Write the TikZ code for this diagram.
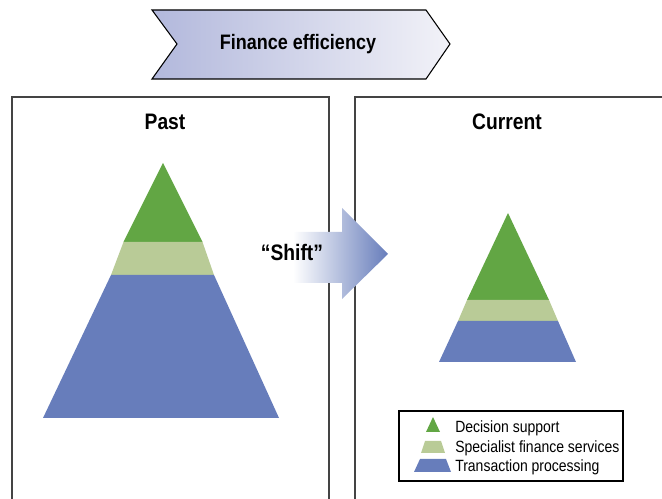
\documentclass[tikz,border=0pt]{standalone}
\usepackage{fontspec}
\setmainfont[FakeStretch=0.86]{Liberation Sans}
\usetikzlibrary{positioning}
\definecolor{decgreen}{HTML}{62A644}
\definecolor{specgreen}{HTML}{B9CB97}
\definecolor{transblue}{HTML}{677DBB}
\definecolor{chevleft}{HTML}{B2B8DC}
\definecolor{chevright}{HTML}{F2F2F8}
\definecolor{framegray}{HTML}{444444}
\tikzset{
  frame/.style={line width=1.1pt, framegray},
  heading/.style={font=\fontsize{16.8}{18}\selectfont\bfseries, text=black},
  legendtext/.style={font=\fontsize{12.2}{13}\selectfont, text=black, anchor=west, inner sep=0pt},
}
\begin{document}
\begin{tikzpicture}[x=0.75pt,y=-0.75pt]
\useasboundingbox (0,0) rectangle (662,499);
% chevron
\shade [left color=chevleft, right color=chevright, draw=black, line width=0.8pt]
  (152,10) -- (426,10) -- (450,44) -- (426,79) -- (152,79) -- (177,44) -- cycle;
\node [font=\fontsize{15.7}{17}\selectfont\bfseries] (title) at (298,44) {Finance efficiency};
% frames
\draw [frame] (12,499) -- (12,97) -- (329,97) -- (329,499);
\draw [frame] (355,499) -- (355,97) -- (662,97);
\node [heading] (past) at (165,122) {Past};
\node [heading] (current) at (507,122) {Current};
% past pyramid
\fill [decgreen] (163,163) -- (202.5,242) -- (123.5,242) -- cycle;
\fill [specgreen] (123.5,242) -- (202.5,242) -- (214,275) -- (111,275) -- cycle;
\fill [transblue] (111,275) -- (214,275) -- (279,418) -- (43,418) -- cycle;
% current pyramid
\fill [decgreen] (508,213) -- (549,300) -- (467,300) -- cycle;
\fill [specgreen] (467,300) -- (549,300) -- (558,321) -- (458,321) -- cycle;
\fill [transblue] (458,321) -- (558,321) -- (576,362) -- (439,362) -- cycle;
% shift arrow
\shade [left color=white, right color=transblue]
  (293,232) -- (342,232) -- (342,208) -- (388,254) -- (342,299) -- (342,283) -- (293,283) -- cycle;
\node [font=\fontsize{16.8}{18}\selectfont\bfseries] (shift) at (292,252) {“Shift”};
% legend
\node [draw=black, line width=0.8pt, minimum width=224*0.75pt, minimum height=70*0.75pt, inner sep=0pt] (legend) at (511,446) {};
\fill [decgreen] (433,417) -- (440,432) -- (426,432) -- cycle;
\fill [specgreen] (425,441) -- (441,441) -- (445,453) -- (421,453) -- cycle;
\fill [transblue] (420,459) -- (446,459) -- (451,472) -- (414,472) -- cycle;
\node [legendtext] (dec) at (455,428) {Decision support};
\node [legendtext] (spec) at (455,448) {Specialist finance services};
\node [legendtext] (trans) at (455,467) {Transaction processing};
\end{tikzpicture}
\end{document}
